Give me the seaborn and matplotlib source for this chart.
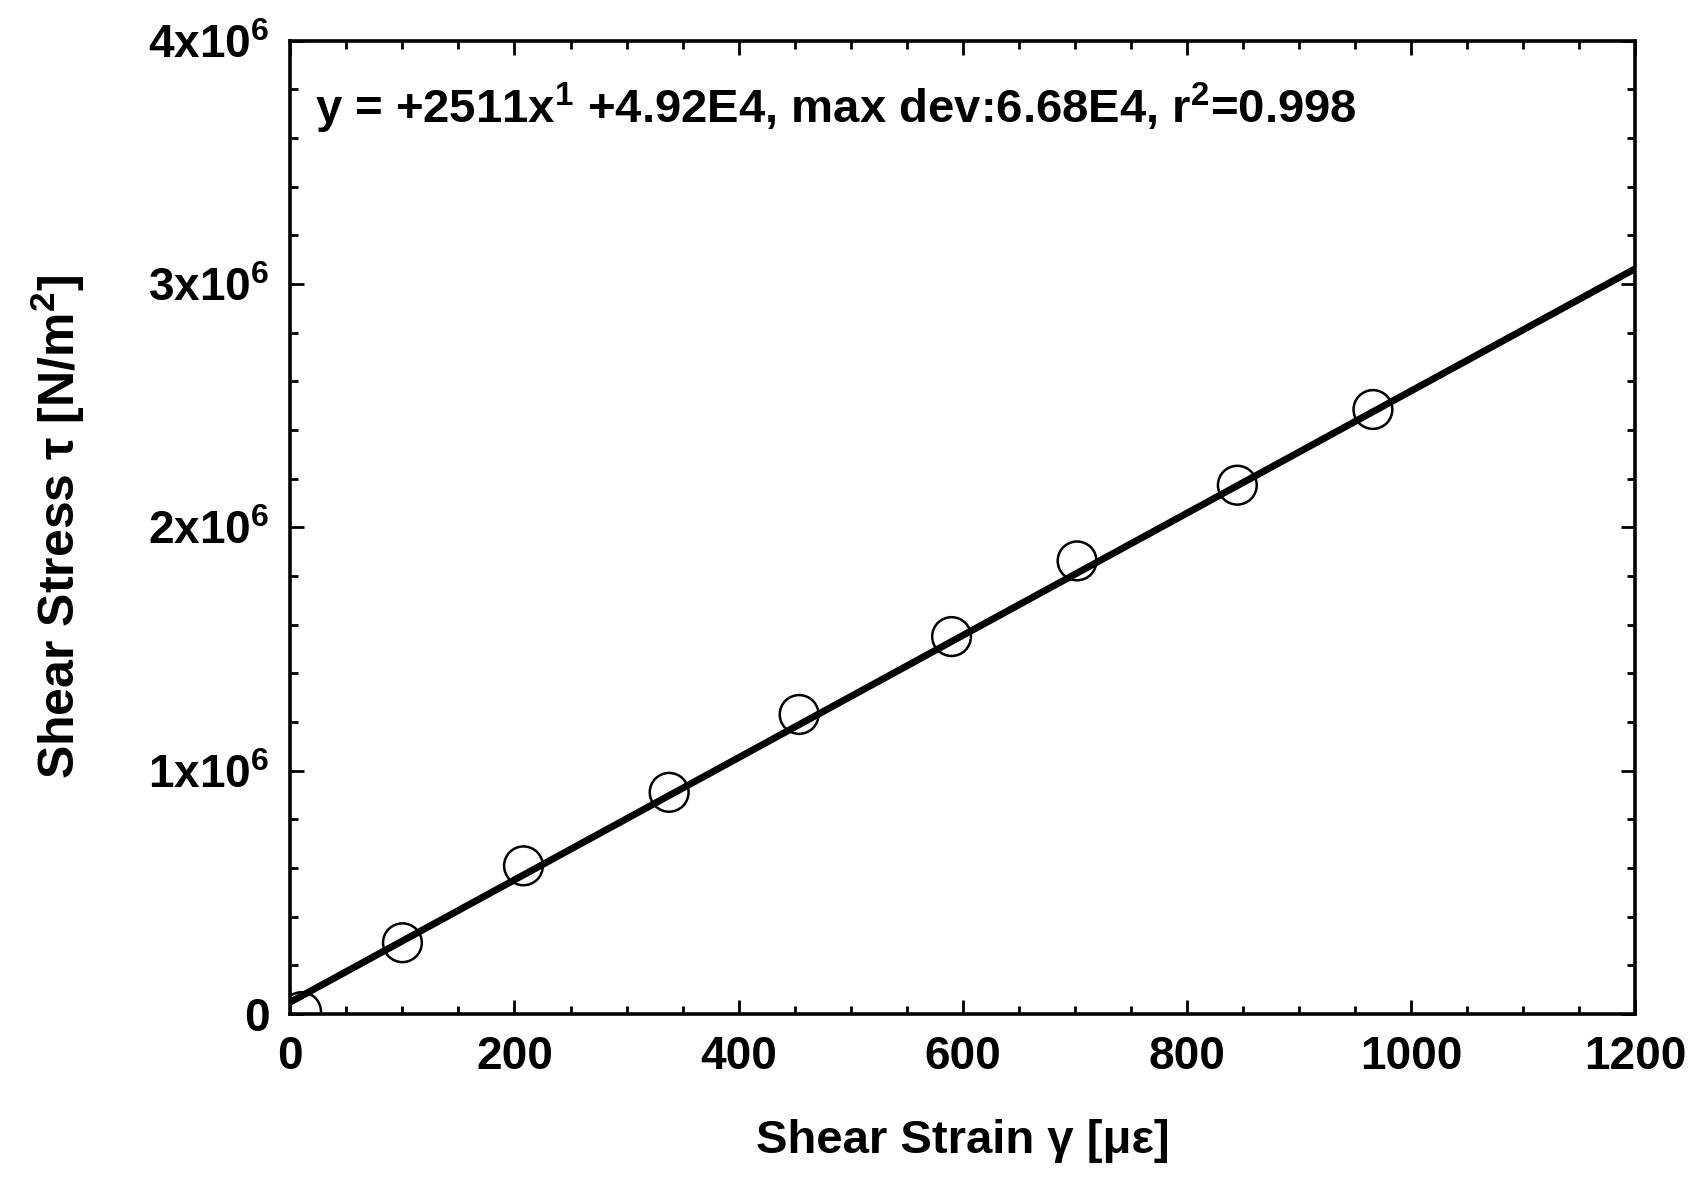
import matplotlib
matplotlib.use('Agg')
import numpy as np
import pandas as pd
import matplotlib.pyplot as plt
import seaborn as sns
from matplotlib.ticker import MultipleLocator

strain = [10, 100, 208, 338, 454, 590, 702, 845, 966]
stress = [1.0e4, 2.93e5, 6.09e5, 9.11e5, 1.231e6, 1.551e6, 1.862e6, 2.173e6, 2.484e6]

# fit line as stated in the annotation
fit_slope = 2511
fit_intercept = 4.92e4
fit_x = [0, 1200]

xtick_vals = [0, 200, 400, 600, 800, 1000, 1200]
ytick_vals = [0, 1e6, 2e6, 3e6, 4e6]
ytick_labels = ['0', '1x10$^6$', '2x10$^6$', '3x10$^6$', '4x10$^6$']
fit_text = 'y = +2511x$^1$ +4.92E4, max dev:6.68E4, r$^2$=0.998'

sns.set_style('ticks')
plt.rcParams['font.family'] = ['Liberation Sans', 'DejaVu Sans']
plt.rcParams['font.weight'] = 'bold'
plt.rcParams['text.color'] = 'black'
plt.rcParams['axes.labelcolor'] = 'black'
plt.rcParams['xtick.color'] = 'black'
plt.rcParams['ytick.color'] = 'black'
plt.rcParams['mathtext.fontset'] = 'custom'
plt.rcParams['mathtext.rm'] = 'Liberation Sans:bold'
plt.rcParams['mathtext.bf'] = 'Liberation Sans:bold'
plt.rcParams['mathtext.it'] = 'Liberation Sans:bold'
plt.rcParams['mathtext.default'] = 'regular'

df = pd.DataFrame({'strain': strain, 'stress': stress})
fit_df = pd.DataFrame({'x': fit_x})
fit_df['y'] = fit_slope * fit_df['x'] + fit_intercept

fig = plt.figure(figsize=(16.98, 11.93), dpi=100)
ax = fig.add_axes([0.171, 0.150, 0.792, 0.816])

sns.lineplot(data=fit_df, x='x', y='y', color='black', linewidth=5, ax=ax)
sns.scatterplot(data=df, x='strain', y='stress', s=780, marker='o', ax=ax, zorder=3)
pts = ax.collections[-1]
pts.set_facecolor('none')
pts.set_edgecolor('black')
pts.set_linewidth(1.8)

ax.set_xlim(0, 1200)
ax.set_ylim(0, 4e6)
ax.set_xticks(xtick_vals)
ax.set_xticklabels([str(v) for v in xtick_vals])
ax.set_yticks(ytick_vals)
ax.set_yticklabels(ytick_labels)
ax.xaxis.set_minor_locator(MultipleLocator(50))
ax.yaxis.set_minor_locator(MultipleLocator(2e5))

ax.tick_params(which='both', direction='in', top=True, right=True, width=2, color='black')
ax.tick_params(which='major', length=10, labelsize=33, pad=15)
ax.tick_params(which='minor', length=6)
for sp in ax.spines.values():
    sp.set_linewidth(2.6)
    sp.set_color('black')

ax.set_xlabel('Shear Strain γ [με]', fontsize=34, fontweight='bold', labelpad=29)
ax.set_ylabel('Shear Stress τ [N/m$^2$]', fontsize=36, fontweight='bold', labelpad=44)

ax.text(0.018, 0.93, fit_text, transform=ax.transAxes, fontsize=34,
        fontweight='bold', ha='left', va='center')

fig.savefig('out.png', dpi=100)
plt.close(fig)
